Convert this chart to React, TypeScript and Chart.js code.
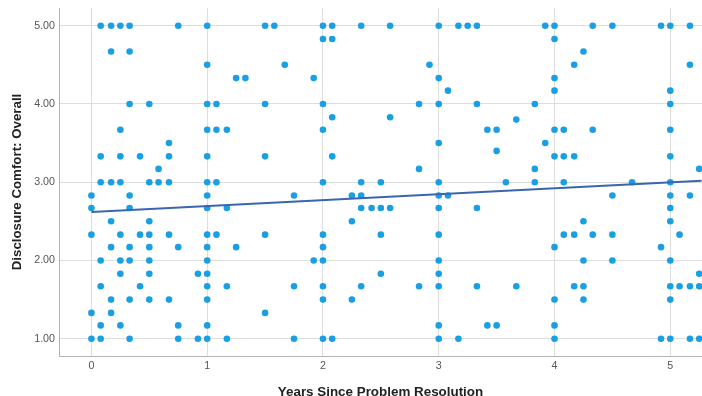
import React, { useEffect, useRef } from "react";
import { Chart, registerables } from "chart.js";

Chart.register(...registerables);

// Comfort level of each row of points (y) and the years values (x) of the points in that row
const rowComfort = [
  5.0, 4.83, 4.67, 4.5, 4.33, 4.17, 4.0, 3.83, 3.8, 3.67, 3.5, 3.4, 3.33, 3.17, 3.0,
  2.83, 2.67, 2.5, 2.33, 2.17, 2.0, 1.83, 1.67, 1.5, 1.33, 1.17, 1.0,
];
const rowYears: number[][] = [
  [0.08, 0.17, 0.25, 0.33, 0.75, 1.0, 1.5, 1.58, 2.0, 2.08, 2.33, 2.58, 3.0, 3.17, 3.25, 3.33, 3.92, 4.0, 4.33, 4.5, 4.92, 5.0, 5.17],
  [2.0, 2.08, 4.0],
  [0.17, 0.33, 4.25],
  [1.0, 1.67, 2.92, 4.17, 5.17],
  [1.25, 1.33, 1.92, 3.0, 4.0],
  [3.08, 4.0, 5.0],
  [0.33, 0.5, 1.0, 1.08, 1.5, 2.0, 2.83, 3.0, 3.33, 3.83, 5.0],
  [2.08, 2.58],
  [3.67],
  [0.25, 1.0, 1.08, 1.17, 2.0, 3.42, 3.5, 4.0, 4.08, 4.33, 5.0],
  [0.67, 3.0, 3.92],
  [3.5],
  [0.08, 0.25, 0.42, 0.67, 1.0, 1.5, 2.08, 4.0, 4.08, 4.17, 5.0],
  [0.58, 2.83, 3.83, 5.25],
  [0.08, 0.17, 0.25, 0.5, 0.58, 0.67, 1.0, 1.08, 2.0, 2.33, 2.5, 3.0, 3.58, 3.83, 4.08, 4.67, 5.0],
  [0.0, 0.33, 1.0, 1.75, 2.25, 2.33, 3.0, 3.08, 4.5, 5.0, 5.17],
  [0.0, 0.33, 1.0, 1.17, 2.33, 2.42, 2.5, 2.58, 3.0, 3.33, 5.0],
  [0.17, 0.5, 2.25, 4.25, 5.0],
  [0.0, 0.25, 0.42, 0.5, 0.67, 1.0, 1.08, 1.5, 2.0, 2.5, 3.0, 4.08, 4.17, 4.33, 4.5, 5.08],
  [0.17, 0.33, 0.5, 0.75, 1.0, 1.25, 2.0, 4.0, 4.92],
  [0.08, 0.25, 0.33, 0.5, 1.0, 1.92, 2.0, 3.0, 4.25, 4.5, 5.0],
  [0.25, 0.5, 0.92, 1.0, 2.5, 3.0, 5.25],
  [0.08, 0.42, 1.0, 1.17, 1.75, 2.0, 2.33, 2.83, 3.0, 3.33, 3.67, 4.17, 4.25, 5.0, 5.08, 5.17, 5.25],
  [0.17, 0.33, 0.5, 0.67, 1.0, 2.0, 2.25, 4.0, 4.25, 5.0],
  [0.0, 0.17, 1.5],
  [0.08, 0.25, 0.75, 1.0, 3.0, 3.42, 3.5, 4.0],
  [0.0, 0.08, 0.33, 0.75, 0.92, 1.0, 1.17, 1.75, 2.0, 2.08, 3.0, 3.17, 4.0, 4.92, 5.0, 5.17, 5.25],
];

// Fit line end points
const fitYears = [0, 5.27];
const fitComfort = [2.62, 3.02];

const xTicks = [0, 1, 2, 3, 4, 5];
const yTicks = [1, 2, 3, 4, 5];

const xTitle = "Years Since Problem Resolution";
const yTitle = "Disclosure Comfort: Overall";

const FONT = "'Liberation Sans', Arial, sans-serif";

export default function App() {
  const ref = useRef<HTMLCanvasElement | null>(null);

  useEffect(() => {
    if (!ref.current) return;
    const points: { x: number; y: number }[] = [];
    rowComfort.forEach((c, i) => {
      rowYears[i].forEach((yr) => points.push({ x: yr, y: c }));
    });
    const fit = fitYears.map((x, i) => ({ x, y: fitComfort[i] }));

    const chart = new Chart(ref.current, {
      type: "scatter",
      data: {
        datasets: [
          {
            data: fit,
            showLine: true,
            borderColor: "#3a66b0",
            borderWidth: 2,
            pointRadius: 0,
            fill: false,
          } as any,
          {
            data: points,
            pointRadius: 3.3,
            pointBorderWidth: 0,
            pointBackgroundColor: "#1b9fe4",
            borderColor: "#1b9fe4",
            showLine: false,
          } as any,
        ],
      },
      options: {
        animation: false,
        responsive: false,
        devicePixelRatio: 1,
        layout: { autoPadding: false, padding: { top: 8, left: 0, right: 0, bottom: 0 } },
        plugins: { legend: { display: false }, tooltip: { enabled: false } },
        scales: {
          x: {
            type: "linear",
            min: -0.28,
            max: 5.274,
            afterBuildTicks: (s: any) => {
              s.ticks = xTicks.map((v) => ({ value: v }));
            },
            afterFit: (s: any) => {
              s.height = 44;
              s.paddingLeft = 0;
              s.paddingRight = 0;
            },
            grid: { color: "#dedede", lineWidth: 1, drawTicks: false },
            border: { color: "#b3b3b3", width: 1 },
            ticks: {
              color: "#555",
              padding: 4,
              font: { family: FONT, size: 10.7 },
              callback: (v: any) => String(v),
            },
            title: {
              display: true,
              text: xTitle,
              color: "#222",
              padding: 0,
              font: { family: FONT, size: 13.4, weight: "bold" },
            },
          },
          y: {
            type: "linear",
            min: 0.779,
            max: 5.226,
            afterBuildTicks: (s: any) => {
              s.ticks = yTicks.map((v) => ({ value: v }));
            },
            afterFit: (s: any) => {
              s.width = 59;
              s.paddingTop = 0;
              s.paddingBottom = 0;
            },
            grid: { color: "#dedede", lineWidth: 1, drawTicks: false },
            border: { color: "#b3b3b3", width: 1 },
            ticks: {
              color: "#555",
              padding: 4,
              font: { family: FONT, size: 10.7 },
              callback: (v: any) => Number(v).toFixed(2),
            },
            title: {
              display: true,
              text: yTitle,
              color: "#222",
              padding: { top: 9, bottom: 0 },
              font: { family: FONT, size: 13.3, weight: "bold" },
            },
          },
        },
      },
    });
    return () => chart.destroy();
  }, []);

  return (
    <div
      style={{
        position: "fixed",
        left: 0,
        top: 0,
        width: 702,
        height: 396,
        overflow: "hidden",
        background: "#fff",
      }}
    >
      <canvas ref={ref} width={702} height={400} style={{ display: "block" }} />
    </div>
  );
}
